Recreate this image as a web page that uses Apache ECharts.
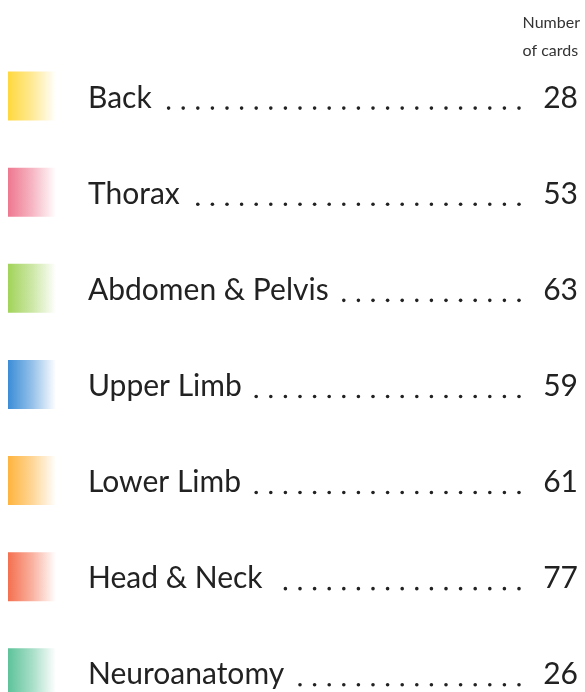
<!DOCTYPE html>
<html>
<head>
<meta charset="utf-8">
<title>Number of cards</title>
<script src="https://cdn.jsdelivr.net/npm/echarts@6/dist/echarts.min.js"></script>
<style>
  html, body { margin: 0; padding: 0; background: #fff; }
  #chart { width: 585px; height: 692px; }
</style>
</head>
<body>
<div id="chart"></div>
<script>
// ── Data ──────────────────────────────────────────────────────────────────────
const categories   = ['Back', 'Thorax', 'Abdomen & Pelvis', 'Upper Limb', 'Lower Limb', 'Head & Neck', 'Neuroanatomy'];
const cardCounts   = [28, 53, 63, 59, 61, 77, 26];
const swatchColors = ['#FFD83E', '#EE7890', '#A2D35A', '#3B8DD6', '#FFB43E', '#F4704F', '#5DC39A'];
const headerLines  = ['Number', 'of cards'];

// ── Layout constants ──────────────────────────────────────────────────────────
const FONT_FAMILY = 'Lato, "Open Sans", sans-serif';
const LABEL_SIZE  = 30;
const TEXT_COLOR  = '#222';
const LABEL_X     = 88;
const NUMBER_X    = 578;   // right edge of the counts
const LAST_DOT_X  = 519;
const DOT_STEP    = 14.6;

// Label widths are needed to know where the leader dots start.
const measureCtx = document.createElement('canvas').getContext('2d');
measureCtx.font = LABEL_SIZE + 'px ' + FONT_FAMILY;
const textWidth = (s) => measureCtx.measureText(s).width;

function renderRow(params, api) {
  const idx   = api.value(0);
  const count = api.value(1);
  const cy    = api.coord([0, idx])[1];
  const color = swatchColors[idx];
  const label = categories[idx];

  const children = [];

  // Fading colour swatch on the left.
  children.push({
    type: 'rect',
    shape: { x: 8, y: cy - 24.5, width: 48, height: 49 },
    style: {
      fill: new echarts.graphic.LinearGradient(0, 0, 1, 0, [
        { offset: 0,   color: color },
        { offset: 0.5, color: echarts.color.modifyAlpha(color, 0.55) },
        { offset: 1,   color: echarts.color.modifyAlpha(color, 0) },
      ]),
    },
  });

  children.push({
    type: 'text',
    x: LABEL_X,
    y: cy + 2,
    style: {
      text: label,
      font: LABEL_SIZE + 'px ' + FONT_FAMILY,
      fill: TEXT_COLOR,
      align: 'left',
      verticalAlign: 'middle',
    },
  });

  // Leader dots, on a fixed grid counted back from the last dot.
  const labelEnd = LABEL_X + textWidth(label);
  for (let x = LAST_DOT_X; x > labelEnd + 12; x -= DOT_STEP) {
    children.push({
      type: 'circle',
      shape: { cx: x, cy: cy + 12, r: 1.8 },
      style: { fill: '#222' },
    });
  }

  children.push({
    type: 'text',
    x: NUMBER_X,
    y: cy + 2,
    style: {
      text: String(count),
      font: LABEL_SIZE + 'px ' + FONT_FAMILY,
      fill: TEXT_COLOR,
      align: 'right',
      verticalAlign: 'middle',
    },
  });

  return { type: 'group', children };
}

const chart = echarts.init(document.getElementById('chart'), null, { renderer: 'canvas' });

chart.setOption({
  animation: false,
  backgroundColor: '#fff',
  // Row index on a value axis spanning the full height: ~96px per row,
  // first row centred near y = 96.
  grid: { left: 0, right: 0, top: 0, bottom: 0 },
  xAxis: { type: 'value', min: 0, max: 585, show: false },
  yAxis: { type: 'value', min: -1, max: 6.2, inverse: true, show: false },
  graphic: [{
    type: 'text',
    right: 5,
    top: 9,
    style: {
      text: headerLines.join('\n'),
      font: '16px ' + FONT_FAMILY,
      fill: '#333',
      align: 'right',
      lineHeight: 28,
    },
  }],
  series: [{
    type: 'custom',
    renderItem: renderRow,
    encode: { y: 0, x: 1 },
    data: categories.map((c, i) => [i, cardCounts[i]]),
  }],
});
</script>
</body>
</html>
